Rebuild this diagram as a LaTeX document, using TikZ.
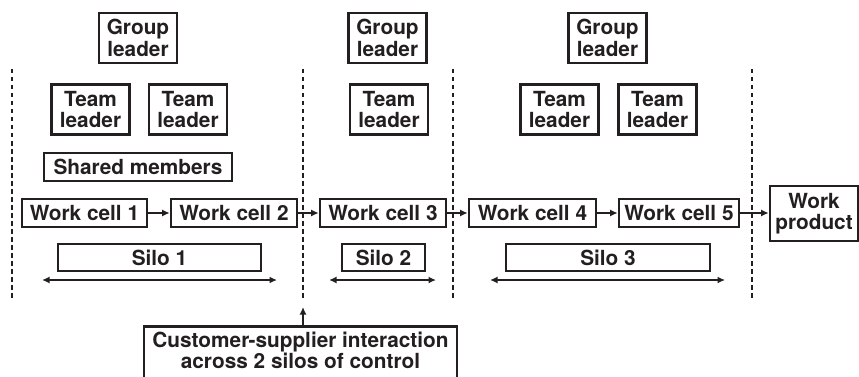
\documentclass[tikz,border=0pt]{standalone}
\usepackage{fontspec}
\setmainfont{TeX Gyre Heros}
\usetikzlibrary{arrows.meta}
\definecolor{ink}{HTML}{231F20}
\begin{document}
\begin{tikzpicture}[x=1pt,y=-1pt,
  txt/.style={inner sep=0pt,align=center,text=ink,
    font=\bfseries\fontsize{20.8}{21.5}\selectfont},
  box/.style={txt,draw=ink,line width=2.6pt},
  twoline/.style={box,minimum width=#1,minimum height=50pt},
  oneline/.style={box,minimum width=#1,minimum height=28pt},
  flow/.style={draw=ink,line width=1.9pt,-{Latex[length=7.5pt,width=7pt]}},
  dbl/.style={draw=ink,line width=1.9pt,{Latex[length=7.5pt,width=7pt]}-{Latex[length=7.5pt,width=7pt]}},
  divider/.style={draw=ink,line width=2.6pt,dash pattern=on 4.5pt off 3.5pt}]
\useasboundingbox (0,0) rectangle (859,377);
\clip (0,0) rectangle (859,377);

% dividers
\coordinate (d1t) at (12,69);  \coordinate (d1b) at (12,298);
\coordinate (d2t) at (303,69); \coordinate (d2b) at (303,298);
\coordinate (d3t) at (453,69); \coordinate (d3b) at (453,298);
\coordinate (d4t) at (752,69); \coordinate (d4b) at (752,298);
\draw[divider] (d1t) -- (d1b);
\draw[divider] (d2t) -- (d2b);
\draw[divider] (d3t) -- (d3b);
\draw[divider] (d4t) -- (d4b);

% group leaders
\node[twoline=78pt] (gl1) at (138,38) {Group\\leader};
\node[twoline=78pt] (gl2) at (387.5,38) {Group\\leader};
\node[twoline=78pt] (gl3) at (607.5,38) {Group\\leader};

% team leaders
\node[twoline=78pt] (tl1) at (90.5,109.5) {Team\\leader};
\node[twoline=78pt] (tl2) at (188,109.5) {Team\\leader};
\node[twoline=78pt] (tl3) at (389,109.5) {Team\\leader};
\node[twoline=78pt] (tl4) at (559.5,109.5) {Team\\leader};
\node[twoline=78pt] (tl5) at (657.5,109.5) {Team\\leader};

\node[oneline=188pt] (sh) at (138,167) {Shared members};

% work cells
\node[oneline=125pt] (wc1) at (84.5,213) {Work cell 1};
\node[oneline=126pt] (wc2) at (234,213) {Work cell 2};
\node[oneline=126pt] (wc3) at (383,213) {Work cell 3};
\node[oneline=127pt] (wc4) at (532.5,213) {Work cell 4};
\node[oneline=120pt] (wc5) at (679,213) {Work cell 5};
\node[box,minimum width=88pt,minimum height=55pt] (wp) at (814,213.5) {Work\\product};

\draw[flow] (wc1) -- (wc2);
\draw[flow] (wc2) -- (wc3);
\draw[flow] (wc3) -- (wc4);
\draw[flow] (wc4) -- (wc5);
\draw[flow] (wc5) -- (wc5 -| wp.west);

% silos
\node[oneline=203pt,minimum height=27pt] (s1) at (159.5,257.5) {Silo 1};
\node[oneline=83pt,minimum height=27pt] (s2) at (383.5,257.5) {Silo 2};
\node[oneline=204pt,minimum height=27pt] (s3) at (608,257.5) {Silo 3};

\coordinate (a1l) at (42,280);  \coordinate (a1r) at (277,280);
\coordinate (a2l) at (329,280); \coordinate (a2r) at (436,280);
\coordinate (a3l) at (490,280); \coordinate (a3r) at (725,280);
\draw[dbl] (a1l) -- (a1r);
\draw[dbl] (a2l) -- (a2r);
\draw[dbl] (a3l) -- (a3r);

% customer-supplier
\node[box,minimum width=313pt,minimum height=62pt,anchor=north] (cust) at (300.5,325) {};
\node[txt] (custtext) at (300.5,350.5)
  {Customer-supplier interaction\\across 2 silos of control};
\coordinate (ctip) at (303,307);
\draw[flow] (cust.north -| ctip) -- (ctip);
\end{tikzpicture}
\end{document}
